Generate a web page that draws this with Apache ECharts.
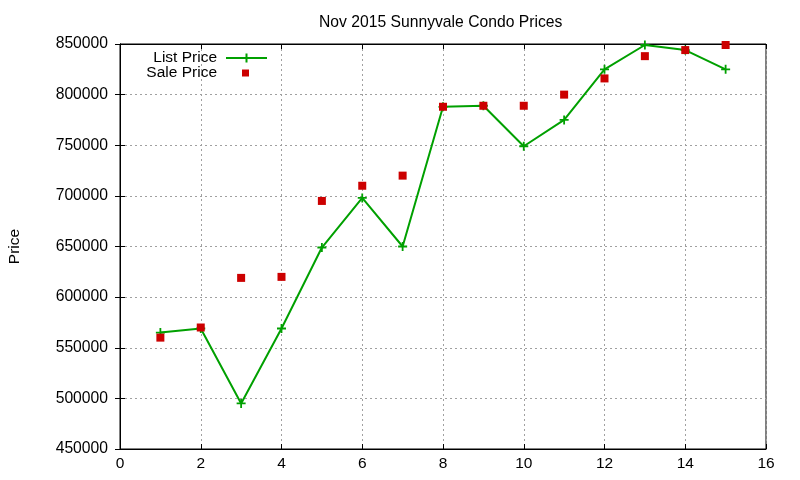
<!DOCTYPE html>
<html>
<head>
<meta charset="utf-8">
<script src="https://cdn.jsdelivr.net/npm/echarts@6/dist/echarts.min.js"></script>
<style>
  html, body { margin: 0; padding: 0; background: #fff; }
  #chart { width: 800px; height: 480px; }
</style>
</head>
<body>
<div id="chart"></div>
<script>
// listing index (x)
const days = [1, 2, 3, 4, 5, 6, 7, 8, 9, 10, 11, 12, 13, 14, 15];
const listPrice = [565000, 569000, 495000, 569000, 649000, 698000, 650000, 788000, 789000, 749000, 775000, 825000, 849000, 844000, 825000];
const salePrice = [560000, 570000, 619000, 620000, 695000, 710000, 720000, 788000, 789000, 789000, 800000, 816000, 838000, 844000, 849000];
const xTicks = { min: 0, max: 16, interval: 2 };
const yTicks = { min: 450000, max: 850000, interval: 50000 };

const GREEN = "#00a000";
const RED = "#cc0000";
const FONT = "Liberation Sans";

const plusIcon = "path://M0 4H10V6H0Z M4 0H6V10H4Z";
const legendLineIcon = "path://M0 3.5H41V5.5H0Z M19.5 0H21.5V9H19.5Z";

const chart = echarts.init(document.getElementById("chart"));

const gridLine = { show: true, lineStyle: { color: "#a0a0a0", width: 1, type: [2, 3] } };
const axisBlack = { show: true, lineStyle: { color: "#000", width: 1 } };
const tickIn = { show: true, inside: true, length: 5, lineStyle: { color: "#000" } };

chart.setOption({
  animation: false,
  textStyle: { fontFamily: FONT },
  title: {
    text: "Nov 2015 Sunnyvale Condo Prices",
    left: 314,
    top: 10,
    textStyle: { fontFamily: FONT, fontSize: 15.7, fontWeight: "normal", color: "#000" },
  },
  grid: {
    left: 120,
    right: 34,
    top: 44,
    bottom: 31,
    outerBoundsMode: "none",
    show: true,
    borderColor: "#000",
    borderWidth: 1,
  },
  legend: [
    {
      data: [{ name: "List Price", icon: legendLineIcon }],
      right: 528,
      top: 45,
      align: "right",
      itemWidth: 41,
      itemHeight: 9,
      selectedMode: false,
      formatter: "{t|{name}}",
      textStyle: {
        fontFamily: FONT, fontSize: 15.5, color: "#000",
        rich: { t: { fontFamily: FONT, fontSize: 15.5, color: "#000", padding: [0, 4, 0, 0] } },
      },
    },
    {
      data: [{ name: "Sale Price", icon: "rect" }],
      right: 546,
      top: 60,
      align: "right",
      itemWidth: 7,
      itemHeight: 7,
      selectedMode: false,
      formatter: "{t|{name}}",
      textStyle: {
        fontFamily: FONT, fontSize: 15.5, color: "#000",
        rich: { t: { fontFamily: FONT, fontSize: 15.5, color: "#000", padding: [0, 20, 0, 0] } },
      },
    },
  ],
  xAxis: [
    {
      type: "value",
      ...xTicks,
      axisLine: axisBlack,
      axisTick: tickIn,
      axisLabel: { fontFamily: FONT, fontSize: 15.5, color: "#000", margin: 7 },
      splitLine: gridLine,
    },
    {
      type: "value",
      position: "top",
      ...xTicks,
      axisLine: axisBlack,
      axisTick: tickIn,
      axisLabel: { show: false },
      splitLine: { show: false },
    },
  ],
  yAxis: [
    {
      type: "value",
      ...yTicks,
      name: "Price",
      nameLocation: "middle",
      nameGap: 97,
      nameTextStyle: { fontFamily: FONT, fontSize: 15.5, color: "#000" },
      axisLine: axisBlack,
      axisTick: tickIn,
      axisLabel: { fontFamily: FONT, fontSize: 15.7, color: "#000", margin: 12, formatter: (v) => String(v) },
      splitLine: gridLine,
    },
    {
      type: "value",
      position: "right",
      ...yTicks,
      axisLine: axisBlack,
      axisTick: tickIn,
      axisLabel: { show: false },
      splitLine: { show: false },
    },
  ],
  series: [
    {
      name: "List Price",
      type: "line",
      data: days.map((d, i) => [d, listPrice[i]]),
      color: GREEN,
      symbol: plusIcon,
      symbolSize: 9,
      showSymbol: true,
      lineStyle: { width: 2, color: GREEN },
      itemStyle: { color: GREEN },
      z: 3,
    },
    {
      name: "Sale Price",
      type: "scatter",
      data: days.map((d, i) => [d, salePrice[i]]),
      color: RED,
      symbol: "rect",
      symbolSize: 8,
      clip: false,
      itemStyle: { color: RED, opacity: 1 },
      z: 4,
    },
  ],
});
</script>
</body>
</html>
